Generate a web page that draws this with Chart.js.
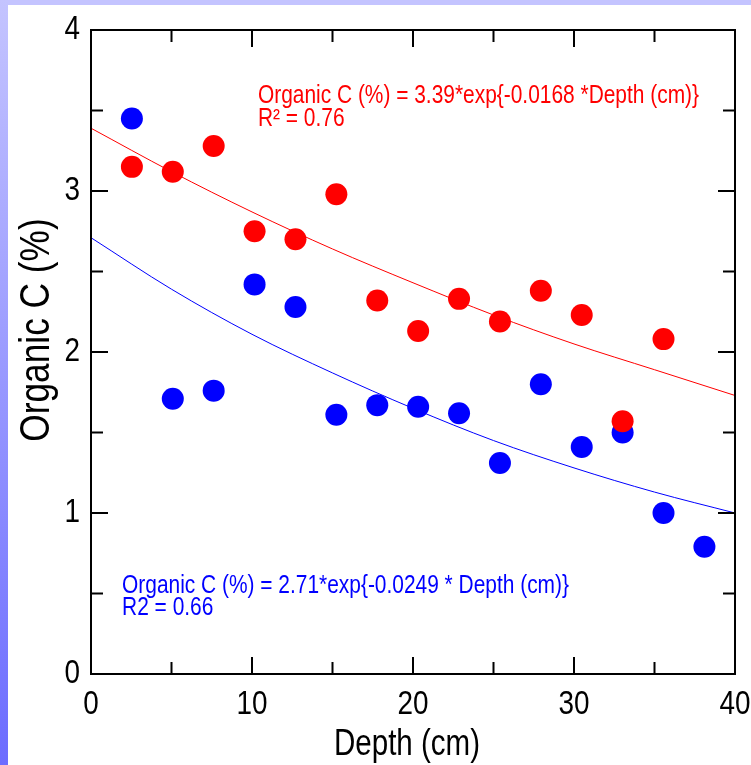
<!doctype html>
<html>
<head>
<meta charset="utf-8">
<title>Organic C vs Depth</title>
<script src="https://cdn.jsdelivr.net/npm/chart.js@4.4.1/dist/chart.umd.min.js"></script>
<style>
    html, body { margin: 0; padding: 0; background: #fff; }
    #wrap { width: 751px; height: 765px; }
</style>
</head>
<body>
<div id="wrap"><canvas id="chart"></canvas></div>
<script>
// core samples, depth in cm
var depthRed = [2.54, 5.08, 7.62, 10.16, 12.7, 15.24, 17.78, 20.32, 22.86, 25.4, 27.94, 30.48, 33.02, 35.56];
var organicRed = [3.15, 3.12, 3.28, 2.75, 2.70, 2.98, 2.32, 2.13, 2.33, 2.19, 2.38, 2.23, 1.57, 2.08];
var depthBlue = [2.54, 5.08, 7.62, 10.16, 12.7, 15.24, 17.78, 20.32, 22.86, 25.4, 27.94, 30.48, 33.02, 35.56, 38.1];
var organicBlue = [3.45, 1.71, 1.76, 2.42, 2.28, 1.61, 1.67, 1.66, 1.62, 1.31, 1.80, 1.41, 1.50, 1.00, 0.79];

var fitDepth = [0, 5, 10, 15, 20, 25, 30, 35, 40];
var fitRed = [3.39, 3.12, 2.87, 2.64, 2.43, 2.23, 2.05, 1.89, 1.73];
var fitBlue = [2.71, 2.39, 2.11, 1.87, 1.65, 1.45, 1.28, 1.13, 1.00];

var xLabels = [0, 10, 20, 30, 40];
var yLabels = [0, 1, 2, 3, 4];
var xTitle = 'Depth (cm)';
var yTitle = 'Organic C (%)';

var eqRed = ['Organic C (%) = 3.39*exp{-0.0168 *Depth (cm)}', 'R\u00B2 = 0.76'];
var eqBlue = ['Organic C (%) = 2.71*exp{-0.0249 * Depth (cm)}', 'R2 = 0.66'];

// no narrow face installed, so text is squeezed horizontally by hand
var FONT = "'Liberation Sans', Arial, sans-serif";
var SQUEEZE = 0.82;

function toPoints(xs, ys) {
    return xs.map(function (x, i) { return { x: x, y: ys[i] }; });
}

function narrowText(ctx, text, x, y, size, color, align, baseline, angle) {
    ctx.save();
    ctx.translate(x, y);
    if (angle) ctx.rotate(angle);
    ctx.scale(SQUEEZE, 1);
    ctx.font = size + 'px ' + FONT;
    ctx.fillStyle = color;
    ctx.textAlign = align;
    ctx.textBaseline = baseline;
    ctx.fillText(text, 0, 0);
    ctx.restore();
}

// slide-style background: lavender band on top, gradient band on the left
var slideBg = {
    id: 'slideBg',
    beforeDraw: function (chart) {
        var ctx = chart.ctx, w = chart.width, h = chart.height;
        ctx.save();
        ctx.fillStyle = '#ffffff';
        ctx.fillRect(0, 0, w, h);
        ctx.fillStyle = '#c4c4ff';
        ctx.fillRect(0, 0, w, 5);
        var g = ctx.createLinearGradient(0, 0, 0, h);
        g.addColorStop(0, '#c4c4ff');
        g.addColorStop(1, '#6c6cff');
        ctx.fillStyle = g;
        ctx.fillRect(0, 0, 8, h);
        ctx.restore();
    }
};

// box frame with inward ticks on all four sides
var frameTicks = {
    id: 'frameTicks',
    afterDatasetsDraw: function (chart) {
        var a = chart.chartArea, ctx = chart.ctx;
        var xs = chart.scales.x, ys = chart.scales.y;
        ctx.save();
        ctx.strokeStyle = '#000';
        ctx.lineWidth = 2;
        ctx.beginPath();
        xs.ticks.forEach(function (t) {
            var px = xs.getPixelForValue(t.value);
            var len = xLabels.indexOf(t.value) >= 0 ? 17 : 12;
            ctx.moveTo(px, a.bottom); ctx.lineTo(px, a.bottom - len);
            ctx.moveTo(px, a.top); ctx.lineTo(px, a.top + len);
        });
        ys.ticks.forEach(function (t) {
            var py = ys.getPixelForValue(t.value);
            var len = yLabels.indexOf(t.value) >= 0 ? 17 : 12;
            ctx.moveTo(a.left, py); ctx.lineTo(a.left + len, py);
            ctx.moveTo(a.right, py); ctx.lineTo(a.right - len, py);
        });
        ctx.stroke();
        ctx.strokeRect(a.left, a.top, a.right - a.left, a.bottom - a.top);
        ctx.restore();
    }
};

// tick labels, axis titles and the regression equations
var labelsText = {
    id: 'labelsText',
    afterDraw: function (chart) {
        var ctx = chart.ctx, a = chart.chartArea;
        var xs = chart.scales.x, ys = chart.scales.y;
        xLabels.forEach(function (v) {
            narrowText(ctx, String(v), xs.getPixelForValue(v), a.bottom + 14, 34, '#000', 'center', 'top');
        });
        yLabels.forEach(function (v) {
            narrowText(ctx, String(v), a.left - 11, ys.getPixelForValue(v), 34, '#000', 'right', 'middle');
        });
        narrowText(ctx, xTitle, (a.left + a.right) / 2 - 6, 755, 36, '#000', 'center', 'alphabetic');
        narrowText(ctx, yTitle, 37, 330, 43, '#000', 'center', 'middle', -Math.PI / 2);

        var rx = xs.getPixelForValue(10.37), bx = xs.getPixelForValue(1.93);
        narrowText(ctx, eqRed[0], rx, ys.getPixelForValue(3.547), 25.5, '#ff0000', 'left', 'alphabetic');
        narrowText(ctx, eqRed[1], rx, ys.getPixelForValue(3.405), 25.5, '#ff0000', 'left', 'alphabetic');
        narrowText(ctx, eqBlue[0], bx, ys.getPixelForValue(0.503), 25.5, '#0000ff', 'left', 'alphabetic');
        narrowText(ctx, eqBlue[1], bx, ys.getPixelForValue(0.366), 25.5, '#0000ff', 'left', 'alphabetic');
    }
};

new Chart(document.getElementById('chart'), {
    type: 'scatter',
    data: {
        datasets: [
            {
                label: 'Red fit',
                data: toPoints(fitDepth, fitRed),
                showLine: true,
                borderColor: '#ff0000',
                borderWidth: 1,
                pointRadius: 0,
                cubicInterpolationMode: 'monotone',
                order: 3
            },
            {
                label: 'Blue fit',
                data: toPoints(fitDepth, fitBlue),
                showLine: true,
                borderColor: '#0000ff',
                borderWidth: 1,
                pointRadius: 0,
                cubicInterpolationMode: 'monotone',
                order: 3
            },
            {
                label: 'Red',
                data: toPoints(depthRed, organicRed),
                backgroundColor: '#ff0000',
                borderWidth: 0,
                pointRadius: 11,
                order: 1
            },
            {
                label: 'Blue',
                data: toPoints(depthBlue, organicBlue),
                backgroundColor: '#0000ff',
                borderWidth: 0,
                pointRadius: 11,
                order: 1
            }
        ]
    },
    options: {
        responsive: true,
        maintainAspectRatio: false,
        animation: false,
        layout: { padding: { top: 30, right: 16, left: 0, bottom: 0 } },
        plugins: {
            legend: { display: false },
            tooltip: { enabled: false }
        },
        scales: {
            x: {
                type: 'linear',
                min: 0,
                max: 40,
                afterFit: function (s) { s.height = 91; s.paddingLeft = 0; s.paddingRight = 0; },
                grid: { display: false },
                border: { display: false },
                ticks: { stepSize: 5, autoSkip: false, display: false }
            },
            y: {
                type: 'linear',
                min: 0,
                max: 4,
                afterFit: function (s) { s.width = 91; s.paddingTop = 0; s.paddingBottom = 0; },
                grid: { display: false },
                border: { display: false },
                ticks: { stepSize: 0.5, autoSkip: false, display: false }
            }
        }
    },
    plugins: [slideBg, frameTicks, labelsText]
});
</script>
</body>
</html>
